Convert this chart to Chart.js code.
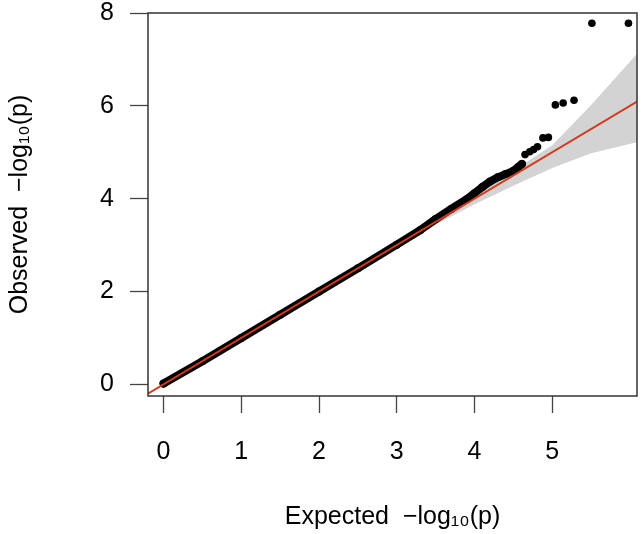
<!DOCTYPE html>
<html>
<head>
<meta charset="utf-8">
<script src="https://cdn.jsdelivr.net/npm/chart.js@4/dist/chart.umd.min.js"></script>
<style>
html,body{margin:0;padding:0;background:#fff;}
#wrap{width:641px;height:534px;}
</style>
</head>
<body>
<div id="wrap"><canvas id="c" width="641" height="534"></canvas></div>
<script>
// Dense stream of points along the diagonal (expected, observed)
const streamExpected = [0.00, 0.50, 1.00, 1.50, 2.00, 2.50, 3.00, 3.30, 3.50, 3.70, 3.90, 4.00, 4.10, 4.20, 4.30, 4.40, 4.50, 4.56, 4.61];
const streamObserved = [0.02, 0.50, 1.00, 1.50, 2.00, 2.50, 3.01, 3.32, 3.56, 3.78, 3.99, 4.12, 4.25, 4.37, 4.46, 4.53, 4.60, 4.68, 4.75];
// Separated tail points
const tailExpected = [4.65, 4.71, 4.76, 4.81, 4.88, 4.95, 5.04, 5.14, 5.28, 5.51, 5.98];
const tailObserved = [4.95, 5.01, 5.06, 5.12, 5.31, 5.32, 6.02, 6.06, 6.12, 7.78, 7.78];
// Confidence band
const bandX    = [-0.25, 1.00, 2.00, 3.00, 3.50, 4.00, 4.50, 5.00, 5.50, 6.10];
const bandLow  = [-0.25, 1.00, 1.99, 2.97, 3.44, 3.88, 4.28, 4.66, 4.98, 5.22];
const bandHigh = [-0.25, 1.00, 2.01, 3.03, 3.56, 4.10, 4.60, 5.15, 6.02, 7.14];
// Reference line y = x
const refX = [-0.25, 6.10];
const refY = [-0.25, 6.10];
// Ticks
const xTicks = [0, 1, 2, 3, 4, 5];
const yTicks = [0, 2, 4, 6, 8];

const pts = (xs, ys) => xs.map((x, i) => ({x: x, y: ys[i]}));
const FONT = "'Liberation Sans', Arial, Helvetica, sans-serif";

const boxPlugin = {
  id: 'box',
  afterDatasetsDraw(chart) {
    const a = chart.chartArea, ctx = chart.ctx;
    ctx.save();
    ctx.strokeStyle = '#333';
    ctx.lineWidth = 1.5;
    ctx.strokeRect(a.left, a.top, a.right - a.left, a.bottom - a.top);
    ctx.restore();
  }
};

new Chart(document.getElementById('c'), {
  type: 'scatter',
  data: {
    datasets: [
      {
        type: 'line', label: 'ref', data: pts(refX, refY),
        borderColor: '#d2391c', borderWidth: 2, pointRadius: 0, fill: false, tension: 0
      },
      {
        type: 'line', label: 'stream', data: pts(streamExpected, streamObserved),
        borderColor: '#000', backgroundColor: '#000', borderWidth: 8,
        borderCapStyle: 'round', borderJoinStyle: 'round',
        pointRadius: 4, pointBorderWidth: 0, fill: false, tension: 0
      },
      {
        type: 'scatter', label: 'tail', data: pts(tailExpected, tailObserved),
        backgroundColor: '#000', borderColor: '#000', pointRadius: 3.8, pointBorderWidth: 0, showLine: false
      },
      {
        type: 'line', label: 'bandHigh', data: pts(bandX, bandHigh),
        borderColor: 'rgba(0,0,0,0)', borderWidth: 0, pointRadius: 0,
        backgroundColor: '#d3d3d3', fill: {target: 4}, tension: 0
      },
      {
        type: 'line', label: 'bandLow', data: pts(bandX, bandLow),
        borderColor: 'rgba(0,0,0,0)', borderWidth: 0, pointRadius: 0, fill: false, tension: 0
      }
    ]
  },
  options: {
    responsive: false,
    animation: false,
    events: [],
    layout: {padding: {top: 13, right: 4, left: 0, bottom: 0}},
    plugins: {legend: {display: false}, tooltip: {enabled: false}},
    scales: {
      x: {
        type: 'linear', min: -0.2, max: 6.09,
        afterBuildTicks: s => { s.ticks = xTicks.map(v => ({value: v})); },
        afterFit: s => { s.height = 138; s.paddingLeft = 0; s.paddingRight = 0; },
        grid: {drawOnChartArea: false, drawTicks: true, tickLength: 17, tickColor: '#444', tickWidth: 1.3},
        border: {display: false},
        ticks: {color: '#000', font: {family: FONT, size: 25}, padding: 24, maxRotation: 0},
        title: {display: true, text: 'Expected  −log₁₀(p)', color: '#000',
                font: {family: FONT, size: 25}, padding: {top: 0, bottom: 2}}
      },
      y: {
        type: 'linear', min: -0.25, max: 8,
        afterBuildTicks: s => { s.ticks = yTicks.map(v => ({value: v})); },
        afterFit: s => { s.width = 148; s.paddingTop = 0; s.paddingBottom = 0; },
        grid: {drawOnChartArea: false, drawTicks: true, tickLength: 18, tickColor: '#444', tickWidth: 1.3},
        border: {display: false},
        ticks: {color: '#000', font: {family: FONT, size: 25}, padding: 16},
        title: {display: true, text: 'Observed  −log₁₀(p)', color: '#000',
                font: {family: FONT, size: 25}, padding: {top: 5, bottom: 0}}
      }
    }
  },
  plugins: [boxPlugin]
});
</script>
</body>
</html>
